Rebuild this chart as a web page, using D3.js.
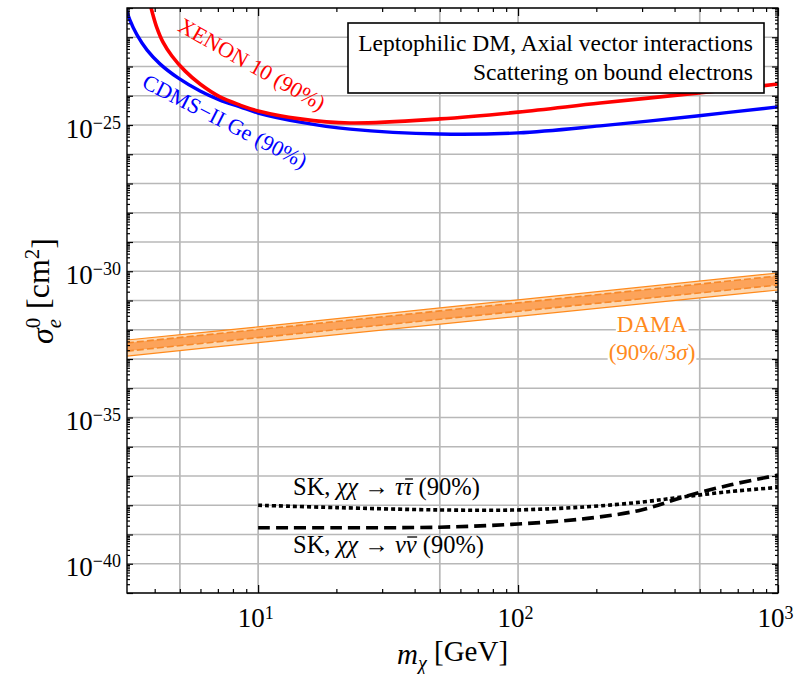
<!DOCTYPE html>
<html><head><meta charset="utf-8">
<script src="https://cdn.jsdelivr.net/npm/d3@7"></script>
<style>
body{margin:0;background:#fff}
svg text{font-family:"Liberation Serif","DejaVu Serif","Times New Roman",serif !important}
</style>
</head><body>
<svg id="chart" width="797" height="674"></svg>
<script>
// ---------------- data ----------------
const xenonMass  = [3.84, 3.94, 4.08, 4.30, 4.66, 5.23, 5.98, 7.13, 8.52, 10, 14.5, 22.6, 50, 100, 207, 487, 1000];
const xenonSigma = [1.38e-21, 5.75e-22, 2.09e-22, 6.92e-23, 2.29e-23, 7.08e-24, 2.51e-24, 9.12e-25, 4.79e-25, 3.02e-25, 1.62e-25, 1.17e-25, 1.62e-25, 2.75e-25, 5.62e-25, 1.23e-24, 2.51e-24];

const cdmsMass  = [3.07, 3.21, 3.42, 3.74, 4.19, 4.92, 5.98, 7.13, 8.52, 10, 14.5, 22.6, 50, 100, 207, 487, 1000];
const cdmsSigma = [1.38e-21, 3.89e-22, 1.20e-22, 3.63e-23, 1.23e-23, 4.07e-24, 1.45e-24, 7.08e-25, 4.17e-25, 2.57e-25, 1.26e-25, 7.24e-26, 4.90e-26, 5.37e-26, 9.33e-26, 2.04e-25, 4.17e-25];

const damaMass      = [3.13, 10, 100, 1000];
const damaOuterHigh = [4.47e-33, 1.26e-32, 1.05e-31, 8.71e-31];
const damaOuterLow  = [1.26e-33, 3.63e-33, 2.88e-32, 2.29e-31];
const damaInnerHigh = [3.55e-33, 1.02e-32, 8.32e-32, 6.92e-31];
const damaInnerLow  = [1.86e-33, 5.37e-33, 4.27e-32, 3.39e-31];

const skTauMass  = [10, 20, 50, 100, 185, 300, 436, 658, 1000];
const skTauSigma = [1.0e-38, 8.32e-39, 6.92e-39, 6.92e-39, 8.91e-39, 1.29e-38, 1.95e-38, 2.95e-38, 4.07e-38];

const skNuMass  = [10, 20, 50, 100, 185, 298, 436, 658, 1000];
const skNuSigma = [1.70e-39, 1.70e-39, 1.78e-39, 2.29e-39, 3.55e-39, 6.92e-39, 1.95e-38, 5.01e-38, 1.07e-37];

const xTickValues = [10, 100, 1000];
const xTickExps   = ["1", "2", "3"];
const xGridValues = [5, 10, 50, 100, 500];
const yLabelExps  = [-25, -30, -35, -40];
const yDecades    = d3.range(-41, -20);

// ---------------- layout ----------------
const X0 = 127, X1 = 778, Y0 = 8, Y1 = 593;
const FONT = "Liberation Serif";
const svg = d3.select("#chart");
const x = d3.scaleLog().domain([3.13, 1000]).range([X0, X1]);
const y = d3.scaleLog().domain([1e-41, 1e-21]).range([Y1, Y0]);

svg.append("defs").append("clipPath").attr("id", "clip")
  .append("rect").attr("x", X0).attr("y", Y0).attr("width", X1 - X0).attr("height", Y1 - Y0);

// grid
const grid = svg.append("g").attr("stroke", "#b8b8b8").attr("stroke-width", 1.7);
grid.selectAll(".gx").data(xGridValues).join("line")
  .attr("x1", d => x(d)).attr("x2", d => x(d)).attr("y1", Y0).attr("y2", Y1);
grid.selectAll(".gy").data(yDecades.map(e => Math.pow(10, e))).join("line")
  .attr("x1", X0).attr("x2", X1).attr("y1", d => y(d)).attr("y2", d => y(d));

const plot = svg.append("g").attr("clip-path", "url(#clip)");

// DAMA band
const bandArea = (hi, lo) => d3.area()
  .x((d, i) => x(damaMass[i])).y0((d, i) => y(lo[i])).y1((d, i) => y(hi[i]))(damaMass);
const lineOf = (ms, vs) => d3.line().x((d, i) => x(ms[i])).y((d, i) => y(vs[i])).curve(d3.curveCatmullRom)(ms);

plot.append("path").attr("d", bandArea(damaOuterHigh, damaOuterLow)).attr("fill", "#fdd7b0");
plot.append("path").attr("d", lineOf(damaMass, damaOuterHigh)).attr("fill", "none").attr("stroke", "#ff8a1c").attr("stroke-width", 1.2);
plot.append("path").attr("d", lineOf(damaMass, damaOuterLow)).attr("fill", "none").attr("stroke", "#ff8a1c").attr("stroke-width", 1.2);
plot.append("path").attr("d", bandArea(damaInnerHigh, damaInnerLow)).attr("fill", "#fca35a");
plot.append("path").attr("d", lineOf(damaMass, damaInnerHigh)).attr("fill", "none").attr("stroke", "#f7892a").attr("stroke-width", 1.6).attr("stroke-dasharray", "7,3");
plot.append("path").attr("d", lineOf(damaMass, damaInnerLow)).attr("fill", "none").attr("stroke", "#f7892a").attr("stroke-width", 1.6).attr("stroke-dasharray", "7,3");

// SK lines
plot.append("path").attr("d", lineOf(skTauMass, skTauSigma)).attr("fill", "none")
  .attr("stroke", "#000").attr("stroke-width", 3.6).attr("stroke-dasharray", "4,3");
plot.append("path").attr("d", lineOf(skNuMass, skNuSigma)).attr("fill", "none")
  .attr("stroke", "#000").attr("stroke-width", 3.6).attr("stroke-dasharray", "12,6");

// CDMS and XENON
plot.append("path").attr("d", lineOf(cdmsMass, cdmsSigma)).attr("fill", "none")
  .attr("stroke", "#0000ff").attr("stroke-width", 3.4);
plot.append("path").attr("d", lineOf(xenonMass, xenonSigma)).attr("fill", "none")
  .attr("stroke", "#ff0000").attr("stroke-width", 3.6);

// ---------------- axes (inward ticks) ----------------
const xMinor = [];
[1, 10, 100].forEach(b => { for (let k = 2; k <= 9; k++) { if (k * b > 3.13 && k * b < 1000) xMinor.push(k * b); } });
const yMinor = [];
yDecades.forEach(e => { if (e < -21) for (let k = 2; k <= 9; k++) yMinor.push(k * Math.pow(10, e)); });
const yMajor = yDecades.map(e => Math.pow(10, e));

function styleAxis(g) {
  g.attr("font-family", FONT);
  g.select(".domain").remove();
  g.selectAll(".tick line").attr("stroke", "#000").attr("stroke-width", 1.2);
}
// bottom
svg.append("g").attr("transform", `translate(0,${Y1})`)
  .call(d3.axisBottom(x).tickValues(xMinor).tickSize(-4).tickFormat("")).call(styleAxis);
const xAx = svg.append("g").attr("transform", `translate(0,${Y1})`)
  .call(d3.axisBottom(x).tickValues(xTickValues).tickSize(-8).tickPadding(15).tickFormat(() => ""))
  .call(styleAxis);
xAx.selectAll(".tick text").each(function (d, i) {
  const t = d3.select(this).attr("font-size", 27).attr("fill", "#000").attr("dx", "-3");
  t.append("tspan").text("10");
  t.append("tspan").attr("dy", "-0.45em").attr("font-size", "18px").text(xTickExps[i]);
});
// top
svg.append("g").attr("transform", `translate(0,${Y0})`)
  .call(d3.axisTop(x).tickValues(xMinor).tickSize(-4).tickFormat("")).call(styleAxis);
svg.append("g").attr("transform", `translate(0,${Y0})`)
  .call(d3.axisTop(x).tickValues(xTickValues).tickSize(-8).tickFormat("")).call(styleAxis);
// left
svg.append("g").attr("transform", `translate(${X0},0)`)
  .call(d3.axisLeft(y).tickValues(yMinor).tickSize(-3).tickFormat("")).call(styleAxis);
const yAx = svg.append("g").attr("transform", `translate(${X0},0)`)
  .call(d3.axisLeft(y).tickValues(yMajor).tickSize(-6).tickPadding(6).tickFormat(() => ""))
  .call(styleAxis);
yAx.selectAll(".tick text").each(function (d) {
  const e = Math.round(Math.log10(d));
  if (!yLabelExps.includes(e)) return;
  const t = d3.select(this).attr("font-size", 27).attr("fill", "#000").attr("dy", "0.45em");
  t.append("tspan").text("10");
  t.append("tspan").attr("dy", "-0.5em").attr("font-size", "18px").text("\u2212" + Math.abs(e));
});
// right
svg.append("g").attr("transform", `translate(${X1},0)`)
  .call(d3.axisRight(y).tickValues(yMinor).tickSize(-3).tickFormat("")).call(styleAxis);
svg.append("g").attr("transform", `translate(${X1},0)`)
  .call(d3.axisRight(y).tickValues(yMajor).tickSize(-6).tickFormat("")).call(styleAxis);

// frame
svg.append("rect").attr("x", X0).attr("y", Y0).attr("width", X1 - X0).attr("height", Y1 - Y0)
  .attr("fill", "none").attr("stroke", "#000").attr("stroke-width", 1.4);

// ---------------- labels ----------------
const xl = svg.append("text").attr("x", (X0 + X1) / 2).attr("y", 664).attr("text-anchor", "middle")
  .attr("font-size", 29);
xl.append("tspan").attr("font-style", "italic").text("m");
xl.append("tspan").attr("font-style", "italic").attr("font-size", "20px").attr("dy", "0.3em").text("\u03C7");
xl.append("tspan").attr("dy", "-0.3em").text(" [GeV]");

const yl = svg.append("text").attr("transform", "translate(53,291) rotate(-90)").attr("text-anchor", "middle")
  .attr("font-size", 32);
yl.append("tspan").attr("font-style", "italic").text("\u03C3");
yl.append("tspan").attr("font-size", "21px").attr("dy", "-0.6em").text("0");
yl.append("tspan").attr("font-size", "21px").attr("font-style", "italic").attr("dx", "-0.5em").attr("dy", "1.0em").text("e");
yl.append("tspan").attr("dy", "-0.4em").attr("dx", "2").text(" [cm");
yl.append("tspan").attr("font-size", "21px").attr("dy", "-0.45em").text("2");
yl.append("tspan").attr("dy", "0.45em").text("]");

// legend box
svg.append("rect").attr("x", 348).attr("y", 23).attr("width", 416).attr("height", 70)
  .attr("fill", "#fff").attr("stroke", "#000").attr("stroke-width", 1.6);
svg.append("text").attr("x", 753).attr("y", 51).attr("text-anchor", "end").attr("font-size", 23.5)
  .text("Leptophilic DM, Axial vector interactions");
svg.append("text").attr("x", 753).attr("y", 80).attr("text-anchor", "end").attr("font-size", 23.5)
  .text("Scattering on bound electrons");

// curve labels
svg.append("text").attr("transform", "translate(252,64) rotate(29.5)").attr("text-anchor", "middle")
  .attr("dy", "0.35em").attr("font-size", 22).attr("fill", "#ff0000").text("XENON 10 (90%)");
svg.append("text").attr("transform", "translate(225,121) rotate(27)").attr("text-anchor", "middle")
  .attr("dy", "0.35em").attr("font-size", 22).attr("fill", "#0000ff").text("CDMS\u2212II Ge (90%)");

// DAMA label with white background
const damaG = svg.append("g");
const d1 = damaG.append("text").attr("x", 652).attr("y", 332).attr("text-anchor", "middle")
  .attr("font-size", 23).attr("fill", "#ff8a1c").text("DAMA");
const d2 = damaG.append("text").attr("x", 652).attr("y", 360).attr("text-anchor", "middle")
  .attr("font-size", 23).attr("fill", "#ff8a1c");
d2.append("tspan").text("(90%/3");
d2.append("tspan").attr("font-style", "italic").text("\u03C3");
d2.append("tspan").text(")");
[d1, d2].forEach(t => {
  const b = t.node().getBBox();
  damaG.insert("rect", "text").attr("x", b.x - 1).attr("y", b.y).attr("width", b.width + 2).attr("height", b.height).attr("fill", "#fff");
});

// SK labels
function skLabel(yb, particle) {
  const t = svg.append("text").attr("x", 293).attr("y", yb).attr("font-size", 24.5);
  t.append("tspan").text("SK, ");
  t.append("tspan").attr("font-style", "italic").text("\u03C7\u03C7");
  t.append("tspan").text(" \u2192 ");
  t.append("tspan").attr("font-style", "italic").text(particle + particle);
  t.append("tspan").text(" (90%)");
  const ext = t.node().getExtentOfChar(10);
  svg.append("line").attr("x1", ext.x + 1.5).attr("x2", ext.x + ext.width + 0.5)
    .attr("y1", yb - 16).attr("y2", yb - 16).attr("stroke", "#000").attr("stroke-width", 1.3);
}
skLabel(495, "\u03C4");
skLabel(553, "\u03BD");
</script>
</body></html>
